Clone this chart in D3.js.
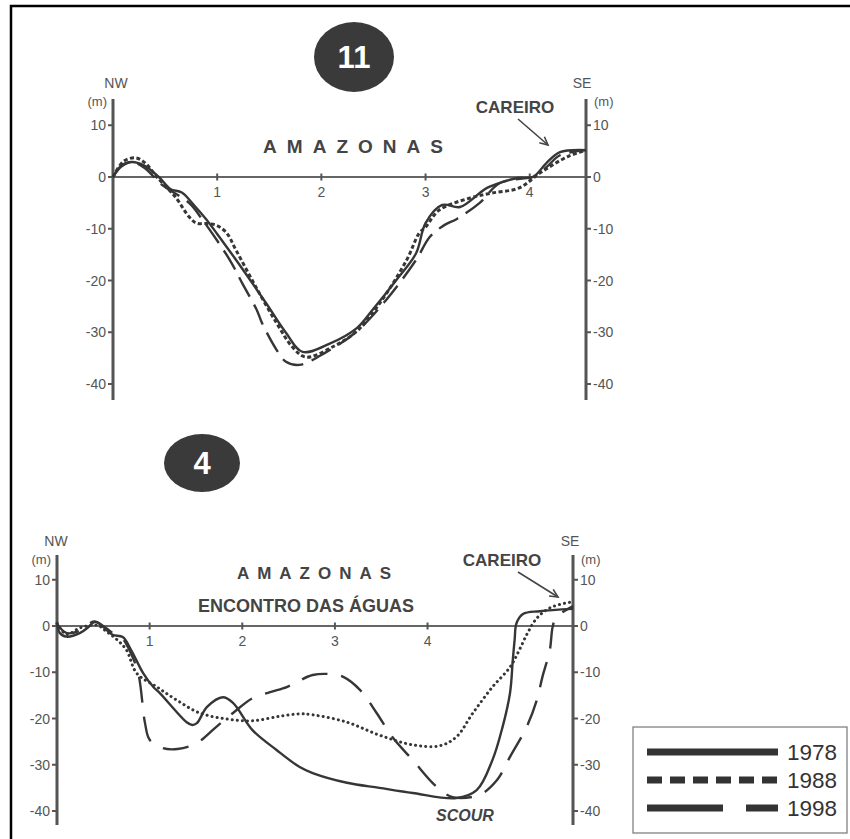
<!DOCTYPE html>
<html>
<head>
<meta charset="utf-8">
<script src="https://cdn.jsdelivr.net/npm/d3@7"></script>
<style>
  body { margin: 0; background: #fff; }
  svg text { font-family: "Liberation Sans", Arial, sans-serif; }
</style>
</head>
<body>
<svg id="chart" width="850" height="839"></svg>
<script>
// depth ticks and distance ticks (km)
const depthTicks = [10, 0, -10, -20, -30, -40];
const kmTicks = [1, 2, 3, 4];
const years = ["1978", "1988", "1998"];

// profile 11 : [distance km, depth m]
const top1978 = [[0, 0], [0.08, 2.2], [0.18, 2.9], [0.3, 2.2], [0.44, 0], [0.55, -2.3], [0.66, -3.0],
  [0.78, -5.5], [0.9, -8.3], [1.0, -11], [1.18, -16], [1.47, -24.4], [1.66, -30.1], [1.82, -33.8],
  [2.08, -32.2], [2.34, -29.2], [2.49, -25.7], [2.72, -19.9], [2.91, -14.7], [3.0, -8.9],
  [3.16, -5.4], [3.33, -5.8], [3.52, -3.1], [3.59, -2.1], [3.88, -0.2], [4.03, 0], [4.16, 2.7],
  [4.29, 4.8], [4.54, 5.2]];
const top1988 = [[0, 0], [0.1, 3.0], [0.22, 3.7], [0.32, 2.5], [0.42, 0], [0.6, -3.9], [0.73, -7.7],
  [0.8, -8.9], [0.9, -9.0], [0.99, -9.3], [1.09, -10.8], [1.18, -14.1], [1.37, -21.2], [1.57, -28.2],
  [1.72, -32.8], [1.85, -34.8], [2.11, -32.8], [2.34, -29.8], [2.56, -24.4], [2.82, -16],
  [2.94, -10.8], [3.0, -9.7], [3.13, -6.4], [3.42, -4.1], [3.64, -3.1], [3.9, -2.1], [4.1, 0.8],
  [4.36, 3.9], [4.54, 5.2]];
const top1998 = [[0, 0], [0.08, 2.0], [0.18, 2.9], [0.3, 1.8], [0.47, -1.5], [0.73, -5], [0.86, -8.3],
  [1.12, -16], [1.24, -20.5], [1.38, -25.7], [1.43, -28.2], [1.57, -33.4], [1.66, -35.7],
  [1.79, -36.3], [2.05, -33.8], [2.33, -30], [2.62, -23.8], [2.91, -16], [3.04, -11.6],
  [3.18, -9.3], [3.3, -8.1], [3.52, -5], [3.71, -1.2], [3.97, -0.2], [4.03, 0], [4.16, 1.9],
  [4.29, 4.2], [4.54, 5.2]];

// profile 4
const bot1978 = [[0, 0.9], [0.03, -1.5], [0.1, -2.3], [0.25, -1.5], [0.34, -0.2], [0.41, 0.9],
  [0.5, -0.2], [0.6, -1.9], [0.71, -2.4], [0.8, -5.2], [0.93, -10.2], [1.04, -13.2], [1.11, -14.5],
  [1.4, -20.8], [1.46, -21.4], [1.51, -21], [1.62, -17.5], [1.79, -15.4], [1.9, -16.6],
  [2.11, -22.5], [2.37, -26.8], [2.62, -30.5], [2.76, -31.8], [3.13, -33.9], [3.48, -35],
  [3.84, -36.1], [4.31, -37.2], [4.53, -35.5], [4.7, -29], [4.81, -21.8], [4.89, -14.5],
  [4.92, -7.4], [4.94, -3], [4.96, 0.6], [5.03, 2.6], [5.21, 3.2], [5.57, 3.7]];
const bot1988 = [[0, 0.5], [0.1, -1.8], [0.25, -0.4], [0.43, 0.2], [0.54, -1.3], [0.65, -3],
  [0.75, -5.2], [0.86, -10.2], [1.08, -13.2], [1.29, -16], [1.54, -18.8], [1.83, -20.1],
  [2.11, -20.5], [2.41, -19.5], [2.62, -19], [2.76, -19.2], [3.13, -20.8], [3.48, -23.6],
  [3.84, -25.7], [4.13, -25.9], [4.31, -24], [4.49, -18.8], [4.7, -13.2], [4.89, -8.9],
  [4.99, -5.2], [5.08, -1.5], [5.18, 1.7], [5.32, 3.9], [5.5, 5], [5.57, 5.2]];
const bot1998 = [[0, 0.5], [0.1, -1.5], [0.25, -1], [0.4, 1], [0.5, 0], [0.6, -1.5], [0.7, -2.5],
  [0.8, -6], [0.88, -10.5], [0.95, -21], [1.0, -24.6], [1.14, -26.4], [1.3, -26.6], [1.51, -25.3],
  [1.72, -21.8], [1.9, -18.8], [2.11, -15.6], [2.3, -14.3], [2.48, -13.2], [2.59, -12.1],
  [2.76, -10.6], [2.95, -10.4], [3.09, -11], [3.27, -13.8], [3.45, -18.8], [3.62, -24],
  [3.84, -29], [4.1, -34.8], [4.27, -37], [4.56, -36.5], [4.75, -33.3], [4.89, -28.3],
  [5.07, -21.8], [5.18, -16], [5.24, -11], [5.32, -5.2], [5.35, -0.2], [5.39, 1.9], [5.57, 4.3]];

var svg = d3.select("#chart");
var ink = "#363636";
var axisGray = "#555";
var labelGray = "#555";

// frame
svg.append("rect").attr("x", 11).attr("y", 6).attr("width", 900).attr("height", 900)
  .attr("fill", "none").attr("stroke", "#000").attr("stroke-width", 2.5);

function drawPanel(cfg) {
  var x = d3.scaleLinear().domain([0, cfg.kmMax]).range([cfg.left, cfg.right]);
  var y = d3.scaleLinear().domain([0, -40]).range([cfg.y0, cfg.y40]);
  var g = svg.append("g");

  // zero line
  g.append("line").attr("x1", x(0)).attr("x2", x(cfg.kmMax)).attr("y1", y(0)).attr("y2", y(0))
    .attr("stroke", "#666").attr("stroke-width", 1.8);
  kmTicks.forEach(function (k) {
    g.append("line").attr("x1", x(k)).attr("x2", x(k)).attr("y1", y(0) - 3.5).attr("y2", y(0) + 3.5)
      .attr("stroke", "#555").attr("stroke-width", 2);
    g.append("text").attr("x", x(k)).attr("y", y(0) + 20).attr("text-anchor", "middle")
      .attr("font-size", 14).attr("fill", labelGray).text(k);
  });

  // side axes
  [[cfg.left, -1], [cfg.right, 1]].forEach(function (a) {
    var ax = a[0], side = a[1];
    g.append("line").attr("x1", ax).attr("x2", ax).attr("y1", cfg.axTop).attr("y2", cfg.axBottom)
      .attr("stroke", axisGray).attr("stroke-width", 3);
    depthTicks.forEach(function (d) {
      g.append("line").attr("x1", ax).attr("x2", ax + side * 5).attr("y1", y(d)).attr("y2", y(d))
        .attr("stroke", axisGray).attr("stroke-width", 2);
      g.append("text").attr("x", ax + side * 7).attr("y", y(d) + 5)
        .attr("text-anchor", side < 0 ? "end" : "start")
        .attr("font-size", 14).attr("fill", labelGray).text(d);
    });
  });

  // orientation labels
  g.append("text").attr("x", cfg.nw[0]).attr("y", cfg.nw[1]).attr("text-anchor", "middle")
    .attr("font-size", 14).attr("fill", labelGray).text("NW");
  g.append("text").attr("x", cfg.left - 6).attr("y", cfg.nw[1] + 18).attr("text-anchor", "end")
    .attr("font-size", 13).attr("fill", labelGray).text("(m)");
  g.append("text").attr("x", cfg.se[0]).attr("y", cfg.se[1]).attr("text-anchor", "middle")
    .attr("font-size", 14).attr("fill", labelGray).text("SE");
  g.append("text").attr("x", cfg.right + 8).attr("y", cfg.se[1] + 18).attr("text-anchor", "start")
    .attr("font-size", 13).attr("fill", labelGray).text("(m)");

  // profiles
  var line = d3.line()
    .x(function (d) { return x(d[0]); })
    .y(function (d) { return y(d[1]); })
    .curve(d3.curveCatmullRom.alpha(0.5));
  cfg.series.forEach(function (s) {
    g.append("path").datum(s.data).attr("d", line).attr("fill", "none")
      .attr("stroke", ink).attr("stroke-width", s.width)
      .attr("stroke-dasharray", s.dash).attr("stroke-linecap", s.cap || "butt")
      .attr("stroke-linejoin", "round");
  });

  // badge
  g.append("ellipse").attr("cx", cfg.badge[0]).attr("cy", cfg.badge[1])
    .attr("rx", cfg.badge[2]).attr("ry", cfg.badge[3]).attr("fill", "#3a3a3a");
  g.append("text").attr("x", cfg.badge[0]).attr("y", cfg.badge[1] + 11).attr("text-anchor", "middle")
    .attr("font-size", 31).attr("font-weight", "bold").attr("fill", "#fff").text(cfg.badgeText);

  // careiro + arrow
  g.append("text").attr("x", cfg.careiro[0]).attr("y", cfg.careiro[1]).attr("text-anchor", "middle")
    .attr("font-size", 17).attr("font-weight", "bold").attr("fill", "#444").text("CAREIRO");
  var ar = cfg.arrow;
  g.append("line").attr("x1", ar[0]).attr("y1", ar[1]).attr("x2", ar[2]).attr("y2", ar[3])
    .attr("stroke", "#444").attr("stroke-width", 1.6);
  var ang = Math.atan2(ar[3] - ar[1], ar[2] - ar[0]);
  var hl = 9;
  g.append("path").attr("d",
    "M" + (ar[2] - hl * Math.cos(ang - 0.45)) + "," + (ar[3] - hl * Math.sin(ang - 0.45)) +
    "L" + ar[2] + "," + ar[3] +
    "L" + (ar[2] - hl * Math.cos(ang + 0.45)) + "," + (ar[3] - hl * Math.sin(ang + 0.45)))
    .attr("fill", "none").attr("stroke", "#444").attr("stroke-width", 1.6);

  return g;
}

var topPanel = drawPanel({
  kmMax: 4.54, left: 113, right: 586, y0: 177, y40: 384, axTop: 99, axBottom: 400,
  nw: [116, 88], se: [582, 88], badge: [354, 57, 40, 35], badgeText: "11",
  careiro: [515, 113], arrow: [518, 119, 548, 145],
  series: [
    { data: top1978, width: 2.4, dash: null },
    { data: top1988, width: 3, dash: "4,2.5" },
    { data: top1998, width: 2.4, dash: "22,9" }
  ]
});
topPanel.append("text").attr("x", 358).attr("y", 153).attr("text-anchor", "middle")
  .attr("font-size", 19).attr("font-weight", "bold").attr("letter-spacing", 10).attr("fill", "#444")
  .text("AMAZONAS");

var botPanel = drawPanel({
  kmMax: 5.57, left: 57, right: 573, y0: 626, y40: 811, axTop: 555, axBottom: 825,
  nw: [56, 546], se: [570, 546], badge: [202, 463, 38, 29], badgeText: "4",
  careiro: [502, 566], arrow: [518, 572, 558, 597],
  series: [
    { data: bot1978, width: 2.4, dash: null },
    { data: bot1988, width: 3, dash: "0.1,5", cap: "round" },
    { data: bot1998, width: 2.4, dash: "26,14" }
  ]
});
botPanel.append("text").attr("x", 318).attr("y", 579).attr("text-anchor", "middle")
  .attr("font-size", 17).attr("font-weight", "bold").attr("letter-spacing", 8).attr("fill", "#444")
  .text("AMAZONAS");
botPanel.append("text").attr("x", 306).attr("y", 612).attr("text-anchor", "middle")
  .attr("font-size", 18).attr("font-weight", "bold").attr("fill", "#444")
  .text("ENCONTRO DAS ÁGUAS");
botPanel.append("text").attr("x", 465).attr("y", 821).attr("text-anchor", "middle")
  .attr("font-size", 16).attr("font-weight", "bold").attr("font-style", "italic").attr("fill", "#444")
  .text("SCOUR");

// legend
var legend = svg.append("g");
legend.append("rect").attr("x", 633).attr("y", 727).attr("width", 214).attr("height", 106)
  .attr("fill", "#fff").attr("stroke", "#777").attr("stroke-width", 1.2);
var legendDash = [null, "15,8", "76,23"];
years.forEach(function (yr, i) {
  var ly = 752 + i * 28;
  legend.append("line").attr("x1", 647).attr("x2", 778).attr("y1", ly).attr("y2", ly)
    .attr("stroke", "#333").attr("stroke-width", 7).attr("stroke-dasharray", legendDash[i]);
  legend.append("text").attr("x", 787).attr("y", ly + 8).attr("font-size", 22.5).attr("fill", "#333")
    .text(yr);
});
</script>
</body>
</html>
